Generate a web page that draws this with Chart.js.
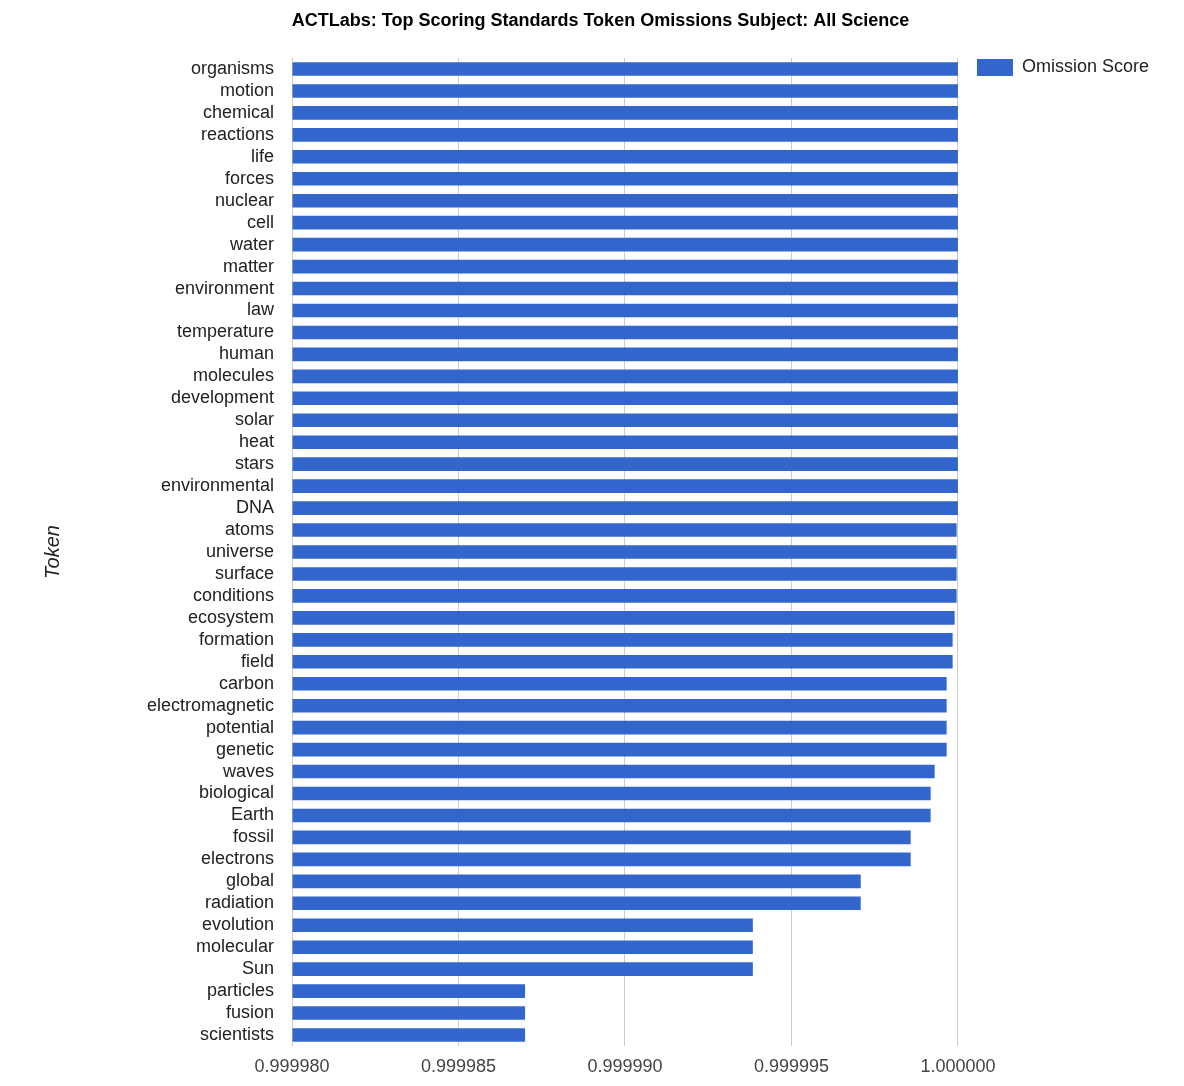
<!DOCTYPE html>
<html>
<head>
<meta charset="utf-8">
<script src="https://cdn.jsdelivr.net/npm/chart.js@4/dist/chart.umd.min.js"></script>
<style>
  html, body { margin: 0; padding: 0; background: #fff; }
  #wrap { width: 1184px; height: 1086px; position: relative; }
</style>
</head>
<body>
<div id="wrap"><canvas id="c"></canvas></div>
<script>
const categories = [
  "organisms","motion","chemical","reactions","life","forces","nuclear","cell","water","matter",
  "environment","law","temperature","human","molecules","development","solar","heat","stars","environmental",
  "DNA","atoms","universe","surface","conditions","ecosystem","formation","field","carbon","electromagnetic",
  "potential","genetic","waves","biological","Earth","fossil","electrons","global","radiation","evolution",
  "molecular","Sun","particles","fusion","scientists"
];
const omissionScore = [
  1.0, 1.0, 1.0, 1.0, 1.0, 1.0, 1.0, 1.0, 1.0, 1.0,
  1.0, 1.0, 1.0, 1.0, 1.0, 1.0, 1.0, 1.0, 1.0, 1.0,
  1.0, 0.99999996, 0.99999996, 0.99999996, 0.99999996, 0.9999999, 0.99999984, 0.99999984, 0.99999966, 0.99999966,
  0.99999966, 0.99999966, 0.9999993, 0.99999918, 0.99999918, 0.99999858, 0.99999858, 0.99999708, 0.99999708, 0.99999384,
  0.99999384, 0.99999384, 0.999987, 0.999987, 0.999987
];
const xTicks = [0.99998, 0.999985, 0.99999, 0.999995, 1.0];
const xMin = 0.99998;
const xMax = 1.0;

const FONT = "'Liberation Sans', Arial, Helvetica, sans-serif";

new Chart(document.getElementById('c'), {
  type: 'bar',
  data: {
    labels: categories,
    datasets: [{
      label: 'Omission Score',
      data: omissionScore,
      base: xMin,
      backgroundColor: '#3366cc',
      borderWidth: 0,
      categoryPercentage: 1.0,
      barPercentage: 0.62
    }]
  },
  options: {
    indexAxis: 'y',
    responsive: true,
    maintainAspectRatio: false,
    animation: false,
    devicePixelRatio: 1,
    layout: { padding: { left: 42, right: 25, top: 0, bottom: 0 } },
    plugins: {
      title: {
        display: true,
        text: 'ACTLabs: Top Scoring Standards Token Omissions Subject: All Science',
        color: '#000',
        font: { family: FONT, size: 18, weight: 'bold' },
        padding: { top: 10, bottom: 26.4 }
      },
      legend: {
        display: true,
        position: 'right',
        align: 'start',
        title: { display: true, text: '', font: { size: 10, lineHeight: 1.2 }, padding: { top: 27.5, bottom: 0 } },
        labels: {
          boxWidth: 36,
          boxHeight: 17,
          padding: 19,
          color: '#222',
          font: { family: FONT, size: 18 }
        }
      },
      tooltip: { enabled: false }
    },
    scales: {
      x: {
        type: 'linear',
        min: xMin,
        max: xMax,
        afterBuildTicks: (scale) => { scale.ticks = xTicks.map(v => ({ value: v })); },
        afterFit: (scale) => { scale.height = 40; },
        ticks: {
          padding: 10,
          color: '#444',
          font: { family: FONT, size: 18 },
          maxRotation: 0,
          autoSkip: false,
          callback: (v) => Number(v).toFixed(6)
        },
        grid: { color: '#cccccc', lineWidth: 1, drawTicks: false },
        border: { display: false }
      },
      y: {
        afterFit: (scale) => { scale.width = 250; },
        ticks: {
          padding: 18,
          color: '#222',
          font: { family: FONT, size: 18 },
          autoSkip: false
        },
        grid: { display: false, drawTicks: false },
        border: { display: false },
        title: {
          display: true,
          text: 'Token',
          color: '#222',
          font: { family: FONT, size: 20, style: 'italic', lineHeight: 1.1 },
          padding: { top: 0, bottom: 0 }
        }
      }
    }
  }
});
</script>
</body>
</html>
